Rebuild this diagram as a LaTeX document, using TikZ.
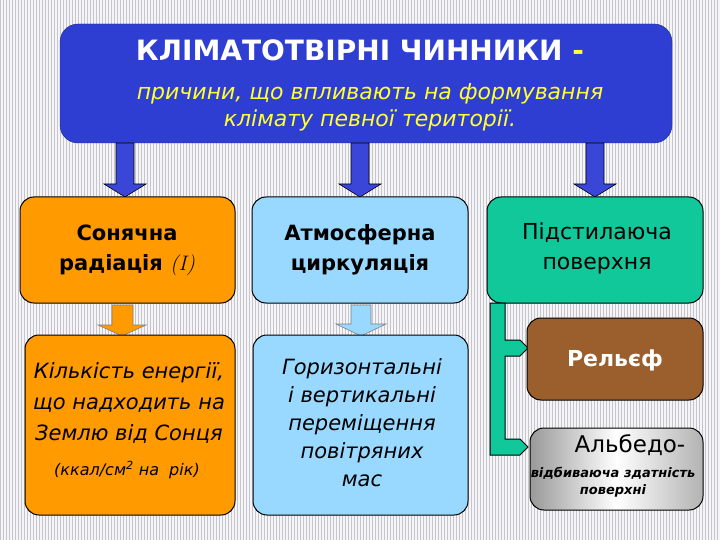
\documentclass[tikz,border=0pt]{standalone}
\usepackage{fontspec}
\setmainfont{DejaVu Sans}
\newfontfamily\lmserif{Latin Modern Roman}
\begin{document}
\begin{tikzpicture}[x=1pt,y=-1pt,
  box/.style={draw=black,line width=1pt,rounded corners=14pt,minimum width=#1,inner sep=2pt,align=center},
  lbl/.style={align=center,inner sep=0pt},
  barrow/.style={draw=black,line width=0.6pt}]
\definecolor{bg}{HTML}{F4F4FA}
\definecolor{topblue}{HTML}{2F3ED2}
\definecolor{arrblue}{HTML}{3A46D8}
\definecolor{org}{HTML}{FF9A00}
\definecolor{lblue}{HTML}{99D8FF}
\definecolor{grn}{HTML}{10C89A}
\definecolor{brn}{HTML}{9A5F2C}
\definecolor{ylw}{HTML}{FFFF33}
\useasboundingbox (0,0) rectangle (720,540);
\fill[bg] (0,0) rectangle (720,540);
\draw[gray!45,line width=0.3pt,step=3] (0,0) grid (720,540);
% top box
\draw[topblue!60!black,fill=topblue,rounded corners=18pt] (60,24) rectangle (672,143);
\node[lbl,text=white,font=\bfseries\fontsize{28}{30}\selectfont] (title) at (360,50) {КЛІМАТОТВІРНІ ЧИННИКИ \textcolor{ylw}{-}};
\node[lbl,text=ylw,font=\itshape\fontsize{22}{27}\selectfont] (sub) at (370,107) {причини, що впливають на формування\\клімату певної території.};
% blue arrows
\foreach \x in {125,360,595}{
 \draw[barrow,fill=arrblue] (\x-9,143) -- (\x+9,143) -- (\x+9,184) -- (\x+21,184) -- (\x,197) -- (\x-21,184) -- (\x-9,184) -- cycle;}
% row1
\draw[box=1,fill=org] (20,197) rectangle (235,303);
\node[lbl,font=\bfseries\fontsize{21}{30}\selectfont] (sr) at (127,250) {Сонячна\\радіація {\lmserif\mdseries\itshape (I)}};
\draw[box=1,fill=lblue] (252,197) rectangle (468,303);
\node[lbl,font=\bfseries\fontsize{21}{30}\selectfont] (ac) at (360,250) {Атмосферна\\циркуляція};
\draw[box=1,fill=grn] (487,197) rectangle (703,303);
\node[lbl,font=\fontsize{22}{30}\selectfont] (pp) at (597,248) {Підстилаюча\\поверхня};
% small arrows
\draw[barrow,draw=gray,fill=org] (112,305) -- (133,305) -- (133,325) -- (146,325) -- (122,336) -- (98,325) -- (112,325) -- cycle;
\draw[barrow,draw=gray,fill=lblue] (351,305) -- (371,305) -- (371,324) -- (386,324) -- (361,336) -- (336,324) -- (351,324) -- cycle;
% row2
\draw[box=1,fill=org] (25,335) rectangle (235,515);
\node[lbl,font=\itshape\fontsize{21}{31}\selectfont] (ke) at (129,403) {Кількість енергії,\\що надходить на\\Землю від Сонця};
\node[lbl,font=\itshape\fontsize{16}{18}\selectfont] (kk) at (127,470) {(ккал/см\textsuperscript{2} на\ \ рік)};
\draw[box=1,fill=lblue] (253,335) rectangle (468,515);
\node[lbl,font=\itshape\fontsize{21}{28}\selectfont] (hv) at (362,423) {Горизонтальні\\і вертикальні\\переміщення\\повітряних\\мас};
% green connector
\draw[black,line width=1pt,fill=grn] (490,303) -- (505,303) -- (505,340) -- (520,340) -- (528,348) -- (520,356) -- (505,356) -- (505,439) -- (520,439) -- (528,447) -- (520,455) -- (490,455) -- cycle;
% relief
\draw[box=1,fill=brn] (527,318) rectangle (703,400);
\node[lbl,text=white,font=\bfseries\fontsize{22}{26}\selectfont] (rel) at (615,360) {Рельєф};
% albedo
\draw[box=1,left color=gray!80,right color=gray!60,middle color=white] (530,428) rectangle (703,510);
\node[lbl,font=\fontsize{23}{26}\selectfont] (alb) at (630,445) {Альбедо-};
\node[lbl,font=\bfseries\itshape\fontsize{13}{17}\selectfont] (alb2) at (613,482) {відбиваюча здатність\\поверхні};
\end{tikzpicture}
\end{document}
